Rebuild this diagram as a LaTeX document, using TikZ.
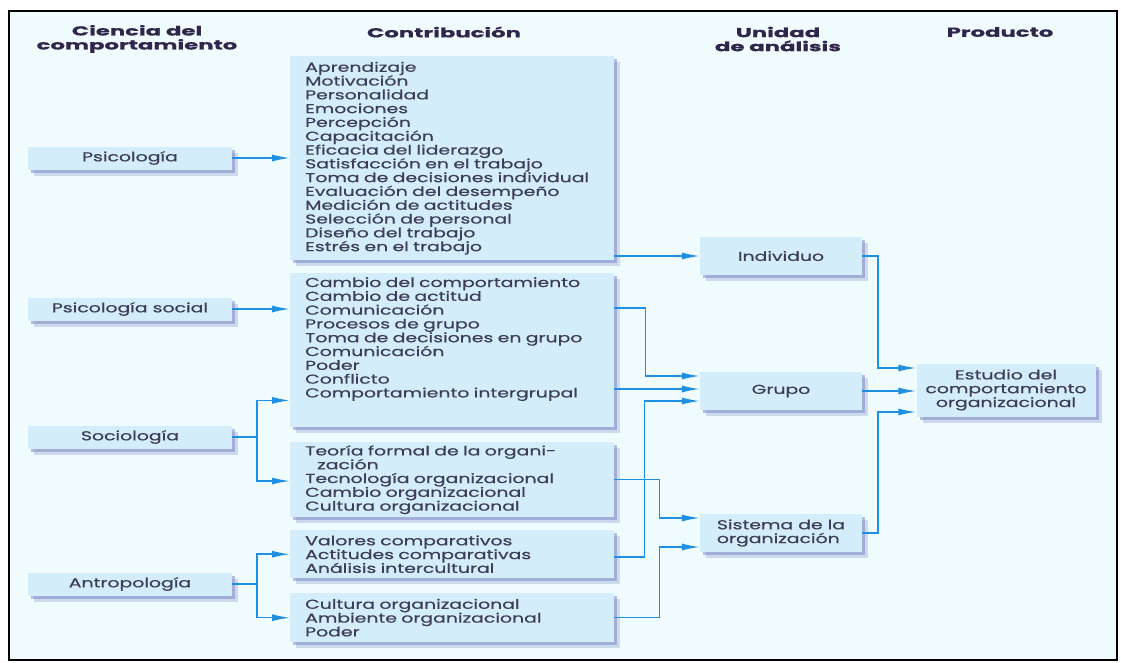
\documentclass[tikz,border=0pt]{standalone}
\usepackage{fontspec}
\setmainfont{Poppins}[FakeStretch=1.45, FakeBold=0.6]
\newfontfamily\headfont{Poppins}[FakeStretch=1.75, FakeBold=0.8]
\usepackage{xcolor}
\definecolor{inkgray}{HTML}{3E3D58}
\definecolor{headink}{HTML}{30264C}
\definecolor{boxblue}{HTML}{D3EDFA}
\definecolor{bgcyan}{HTML}{F0FBFE}
\definecolor{shadowblue}{HTML}{7F8CC8}
\definecolor{arrowblue}{HTML}{1E8FE1}
\usetikzlibrary{arrows.meta,shadows}

\begin{document}
\begin{tikzpicture}[x=1pt, y=-1pt,
  boxshadow/.style={drop shadow={shadow xshift=6pt, shadow yshift=-6pt, fill=shadowblue, opacity=.3},
                    drop shadow={shadow xshift=3pt, shadow yshift=-3pt, fill=shadowblue, opacity=.55}},
  basebox/.style={fill=boxblue, boxshadow, text=inkgray, font=\fontsize{13}{13.8}\selectfont},
  sci/.style={basebox, minimum width=204pt, minimum height=23pt, inner sep=0pt},
  contrib/.style={basebox, anchor=north west, text width=294pt, inner xsep=15pt, inner ysep=0pt, align=left},
  unit/.style={basebox, minimum width=162pt, minimum height=38pt, inner sep=0pt, align=left},
  prod/.style={basebox, minimum width=179pt, minimum height=53pt, inner sep=0pt, align=center},
  head/.style={text=headink, font=\headfont\bfseries\fontsize{13}{14}\selectfont, align=center},
  arr/.style={-{Latex[length=18pt,width=7pt]}, line width=1.5pt, draw=arrowblue}
]
  % frame and background
  \fill[white] (0,0) rectangle (1121,662);
  \useasboundingbox (0,0) rectangle (1121,662);
  \draw[line width=1.5pt, fill=bgcyan] (9,11) rectangle (1117,660);

  % column headings
  \node[head] (hcien) at (137,39) {Ciencia del\\comportamiento};
  \node[head] (hcont) at (444,32) {Contribución};
  \node[head] (hunid) at (778,39) {Unidad\\de análisis};
  \node[head] (hprod) at (1000,32) {Producto};

  % behavioural sciences
  \node[sci] (psi)    at (130,158) {Psicología};
  \node[sci] (psisoc) at (130,309) {Psicología social};
  \node[sci] (soc)    at (130,437) {Sociología};
  \node[sci] (antro)  at (130,584) {Antropología};

  % contributions
  \node[contrib, minimum height=204pt] (c1) at (290,56) {Aprendizaje\\Motivación\\Personalidad\\Emociones\\Percepción\\Capacitación\\Eficacia del liderazgo\\Satisfacción en el trabajo\\Toma de decisiones individual\\Evaluación del desempeño\\Medición de actitudes\\Selección de personal\\Diseño del trabajo\\Estrés en el trabajo};
  \node[contrib, minimum height=154pt] (c2) at (290,273) {Cambio del comportamiento\\Cambio de actitud\\Comunicación\\Procesos de grupo\\Toma de decisiones en grupo\\Comunicación\\Poder\\Conflicto\\Comportamiento intergrupal\\[12pt]\mbox{}};
  \node[contrib, minimum height=75pt] (c3) at (290,442) {Teoría formal de la organi-\\\hspace*{12pt}zación\\Tecnología organizacional\\Cambio organizacional\\Cultura organizacional};
  \node[contrib, minimum height=48pt] (c4) at (290,530) {Valores comparativos\\Actitudes comparativas\\Análisis intercultural};
  \node[contrib, minimum height=49pt] (c5) at (290,593) {Cultura organizacional\\Ambiente organizacional\\Poder};

  % units of analysis
  \node[unit] (ind)   at (781,256) {Individuo};
  \node[unit] (grupo) at (781,391) {Grupo};
  \node[unit] (sist)  at (781,533) {Sistema de la\\organización};

  % product
  \node[prod] (est) at (1006,390) {Estudio del\\comportamiento\\organizacional};

  % sciences -> contributions
  \draw[arr] (psi) -- (psi -| c1.west);
  \draw[arr] (psisoc) -- (psisoc -| c2.west);
  \draw[arr] (soc.east) -- ++(25,0) |- ([yshift=27pt]c2.south west);
  \draw[arr] (soc.east) ++(25,0) |- ([yshift=-39pt]c3.north west);
  \draw[arr] (antro.east) -- ++(25,0) |- (c4.west);
  \draw[arr] (antro.east) ++(25,0) |- (c5.west);

  % contributions -> units
  \draw[arr] (c1.east |- ind) -- (ind);
  \draw[arr] ([yshift=-35pt]c2.north east) -- ++(31,0) |- ([yshift=15pt]grupo.west);
  \draw[arr] ([yshift=2pt]grupo.west -| c2.east) -- ([yshift=2pt]grupo.west);
  \draw[arr] ([yshift=-3pt]c4.east) -- ++(30,0) |- ([yshift=-10pt]grupo.west);
  \draw[arr] (c3.east) -- ++(45,0) |- ([yshift=15pt]sist.west);
  \draw[arr] (c5.east) -- ++(45,0) |- ([yshift=-14pt]sist.west);

  % units -> product
  \draw[arr] (ind.east) -- ++(16,0) |- ([yshift=22pt]est.west);
  \draw[arr] (grupo.east) -- (grupo.east -| est.west);
  \draw[arr] (sist.east) -- ++(16,0) |- ([yshift=-22pt]est.west);
\end{tikzpicture}
\end{document}
